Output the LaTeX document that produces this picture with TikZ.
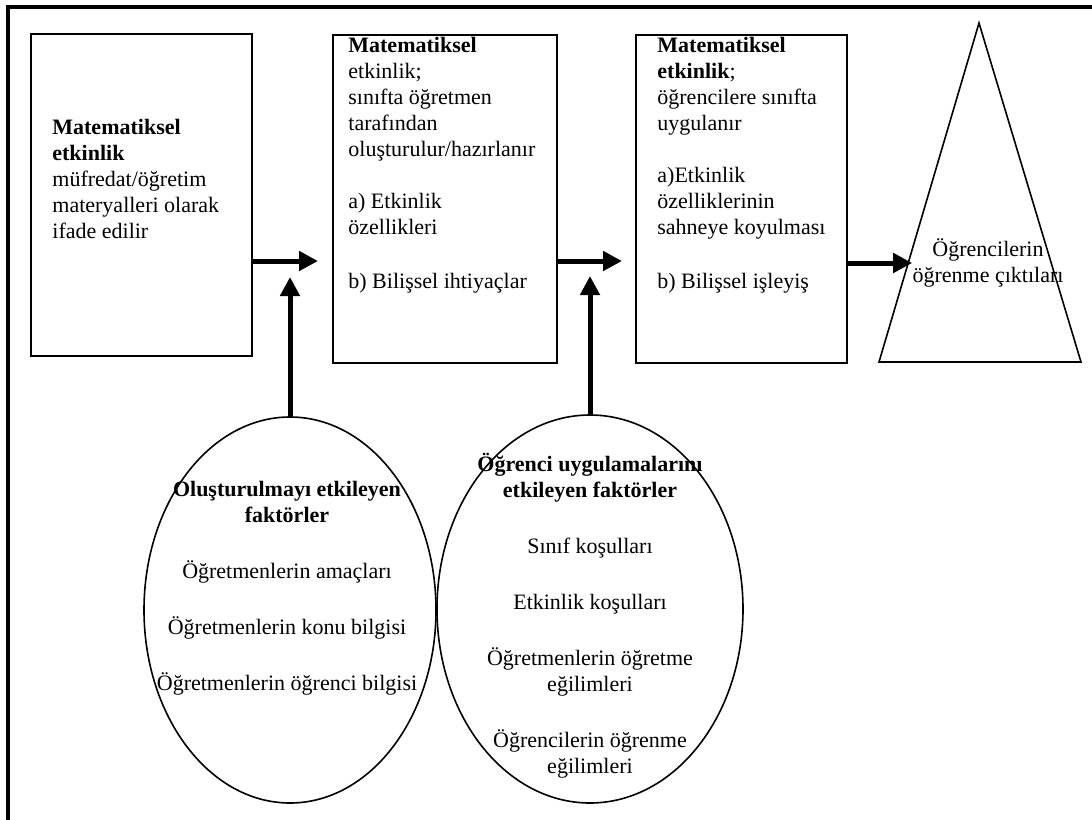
\documentclass[tikz,border=0pt]{standalone}
\usepackage{fontspec}
\setmainfont{Liberation Serif}
\usetikzlibrary{shapes.geometric, arrows.meta, positioning}
\tikzstyle{box} = [rectangle, anchor=north west, draw=black, line width=0.9pt, inner sep=0pt]
\tikzstyle{factor} = [ellipse, draw=black, line width=0.8pt, inner sep=0pt]
\tikzstyle{txt} = [inner sep=0pt, font=\fontsize{11pt}{13pt}\selectfont]
\tikzstyle{arrow} = [line width=2.5pt, -{Triangle[length=9.5pt,width=9.5pt]}]
\tikzstyle{frame} = [line width=1.8pt]

\begin{document}
\begin{tikzpicture}[x=0.5pt, y=-0.5pt]
\useasboundingbox (0,0) rectangle (1092,819);
\clip (0,0) rectangle (1092,819);
\draw [frame] (8,840) |- (1110,7);

\node (box1) [box, minimum width=110.5pt, minimum height=161pt] at (30,33) {};
\node (box2) [box, minimum width=112pt, minimum height=164pt] at (332,34) {};
\node (box3) [box, minimum width=105.5pt, minimum height=164pt] at (635,34) {};
\node (factors1) [factor, minimum width=146pt, minimum height=193pt] at (290,610) {};
\node (factors2) [factor, minimum width=153pt, minimum height=194pt] at (590,609) {};
\draw [line width=0.8pt] (979,23) -- (1081,362) -- (879,362) -- cycle;

\node (box1text) [txt, anchor=north west, align=left] at (52,119) {\textbf{Matematiksel}\\\textbf{etkinlik}\\müfredat/öğretim\\materyalleri olarak\\ifade edilir};
\node (box2text) [txt, anchor=north west, align=left] at (348,37) {\textbf{Matematiksel}\\etkinlik;\\sınıfta öğretmen\\tarafından\\oluşturulur/hazırlanır\\[13pt]a) Etkinlik\\özellikleri\\[14pt]b) Bilişsel ihtiyaçlar};
\node (box3text) [txt, anchor=north west, align=left] at (657,37) {\textbf{Matematiksel}\\\textbf{etkinlik};\\öğrencilere sınıfta\\uygulanır\\[13pt]a)Etkinlik\\özelliklerinin\\sahneye koyulması\\[14pt]b) Bilişsel işleyiş};
\node (outcome) [txt, align=center] at (988,263) {Öğrencilerin\\öğrenme çıktıları};
\node (factors1text) [txt, anchor=north, align=center] at (287,481) {\textbf{Oluşturulmayı etkileyen}\\\textbf{faktörler}\\[15pt]Öğretmenlerin amaçları\\[15pt]Öğretmenlerin konu bilgisi\\[15pt]Öğretmenlerin öğrenci bilgisi};
\node (factors2text) [txt, anchor=north, align=center] at (590,453) {\textbf{Öğrenci uygulamalarını}\\\textbf{etkileyen faktörler}\\[15pt]Sınıf koşulları\\[15pt]Etkinlik koşulları\\[15pt]Öğretmenlerin öğretme\\eğilimleri\\[15pt]Öğrencilerin öğrenme\\eğilimleri};

\draw [arrow, shorten >=7pt] (box1.east |- 0,261) -- (box2.west |- 0,261);
\draw [arrow, shorten >=6.5pt] (box2.east |- 0,261) -- (box3.west |- 0,261);
\draw [arrow] (box3.east |- outcome.west) -- (outcome.west);
\draw [arrow] (factors1.north) -- (factors1.north |- 0,277);
\draw [arrow] (factors2.north) -- (factors2.north |- 0,276);
\end{tikzpicture}
\end{document}
